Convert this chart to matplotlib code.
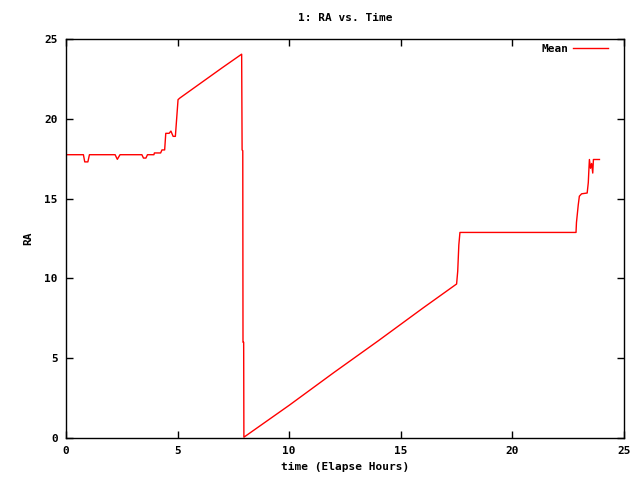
import matplotlib
matplotlib.use("Agg")
import matplotlib.pyplot as plt

# elapsed hours and mean RA
time_hours = [
    0.0, 0.78, 0.84, 0.98, 1.05, 2.2, 2.3, 2.42, 3.4, 3.47, 3.58, 3.65,
    3.94, 3.96, 4.24, 4.3, 4.42, 4.47, 4.62, 4.7, 4.8, 4.9, 5.02, 5.1,
    5.3, 6.0, 7.0, 7.87, 7.89, 7.92, 7.93, 7.96, 7.97,
    10.0, 12.0, 14.0, 16.0, 17.5, 17.55, 17.6, 17.65,
    22.85, 22.87, 22.95, 23.0, 23.1, 23.35, 23.4, 23.43, 23.45, 23.5,
    23.55, 23.6, 23.63, 23.9,
]
ra_mean = [
    17.75, 17.75, 17.3, 17.3, 17.75, 17.75, 17.46, 17.75, 17.75, 17.54, 17.54, 17.75,
    17.75, 17.86, 17.86, 18.05, 18.05, 19.09, 19.09, 19.23, 18.9, 18.9, 21.2, 21.3,
    21.5, 22.2, 23.2, 24.05, 18.05, 18.0, 6.0, 6.0, 0.05,
    2.05, 4.1, 6.1, 8.15, 9.65, 10.45, 12.1, 12.88,
    12.88, 13.5, 14.6, 15.15, 15.3, 15.35, 16.0, 16.9, 17.45, 16.9,
    17.2, 16.6, 17.45, 17.45,
]
x_ticks = [0, 5, 10, 15, 20, 25]
y_ticks = [0, 5, 10, 15, 20, 25]

font = {"family": "DejaVu Sans Mono", "weight": "bold", "size": 8}

fig = plt.figure(figsize=(6.4, 4.8), dpi=100)
ax = fig.add_axes([66 / 640, 42 / 480, 558 / 640, 399 / 480])
ax.plot(time_hours, ra_mean, color="red", linewidth=1.0, label="Mean")
ax.set_xlim(0, 25)
ax.set_ylim(0, 25)
ax.set_xticks(x_ticks)
ax.set_yticks(y_ticks)
ax.tick_params(direction="in", top=True, right=True, length=5, width=1, pad=6)
for lbl in ax.get_xticklabels() + ax.get_yticklabels():
    lbl.set_fontproperties(font)
for s in ax.spines.values():
    s.set_linewidth(1)

ax.set_title("1: RA vs. Time", fontdict=font, pad=13)
ax.set_xlabel("time (Elapse Hours)", fontdict=font, labelpad=4)
ax.set_ylabel("RA", fontdict=font, labelpad=8)

leg = ax.legend(loc="upper right", frameon=False, markerfirst=False,
                prop=font, handlelength=3.2, handletextpad=0.4,
                borderaxespad=0.3, bbox_to_anchor=(1 - 8 / 558, 1 + 3 / 399))

fig.savefig("out.png", dpi=100)
